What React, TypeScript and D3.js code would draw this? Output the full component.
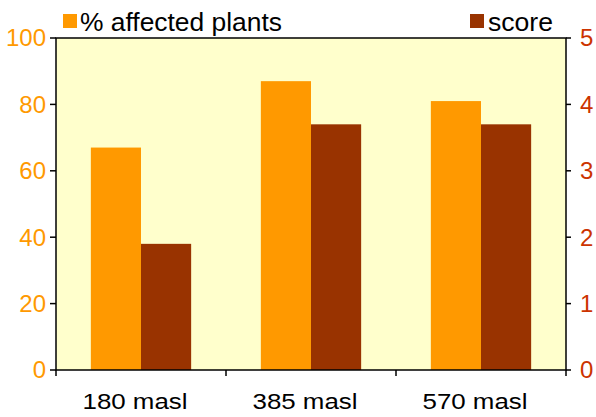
import React from "react";
import * as d3 from "d3";

const categories = ["180 masl", "385 masl", "570 masl"];
const affected = [67, 87, 81];
const score = [1.9, 3.7, 3.7];
const leftTicks = [0, 20, 40, 60, 80, 100];
const rightTicks = [0, 1, 2, 3, 4, 5];

export default function App() {
  const W = 596, H = 417;
  const L = 56, R = 566, T = 38, B = 370;
  const x = d3.scaleBand().domain(categories).range([L, R]).paddingInner(0.41).paddingOuter(0.205);
  const yL = d3.scaleLinear().domain([0, 100]).range([B, T]);
  const yR = d3.scaleLinear().domain([0, 5]).range([B, T]);
  const bw = x.bandwidth() / 2;
  const font = "Liberation Sans, Arial, sans-serif";
  const step = (R - L) / categories.length;
  return (
    <svg width={W} height={H} style={{ position: "absolute", left: 0, top: 0 }} fontFamily={font}>
      <rect x={L} y={T} width={R - L} height={B - T} fill="#FFFFCC" />
      {categories.map((c, i) => (
        <g key={c}>
          <rect x={x(c)!} y={yL(affected[i])} width={bw} height={B - yL(affected[i])} fill="#FF9900" />
          <rect x={x(c)! + bw} y={yR(score[i])} width={bw} height={B - yR(score[i])} fill="#993300" />
        </g>
      ))}
      <rect x={L} y={T} width={R - L} height={B - T} fill="none" stroke="#000" strokeWidth={1.5} />
      {leftTicks.map((t) => (
        <g key={"l" + t}>
          <line x1={L - 6} x2={L} y1={yL(t)} y2={yL(t)} stroke="#000" strokeWidth={1.5} />
          <text x={L - 10} y={yL(t)} dy="0.35em" textAnchor="end" fontSize={24} fill="#FF9900">{t}</text>
        </g>
      ))}
      {rightTicks.map((t) => (
        <g key={"r" + t}>
          <line x1={R} x2={R + 5} y1={yR(t)} y2={yR(t)} stroke="#000" strokeWidth={1.5} />
          <text x={R + 14} y={yR(t)} dy="0.35em" textAnchor="start" fontSize={24} fill="#CC3300">{t}</text>
        </g>
      ))}
      {d3.range(categories.length + 1).map((i) => (
        <line key={"b" + i} x1={L + i * step} x2={L + i * step} y1={B} y2={B + 6} stroke="#000" strokeWidth={1.5} />
      ))}
      {categories.map((c) => (
        <text key={"t" + c} x={x(c)! + x.bandwidth() / 2 - 6} y={409} textAnchor="middle" fontSize={22.5} fill="#000" textLength={105} lengthAdjust="spacingAndGlyphs">{c}</text>
      ))}
      <rect x={63} y={14} width={14} height={14} fill="#FF9900" />
      <text x={80} y={31} fontSize={25} fill="#000" textLength={202} lengthAdjust="spacingAndGlyphs">% affected plants</text>
      <rect x={470} y={14} width={14} height={14} fill="#993300" />
      <text x={488} y={31} fontSize={25} fill="#000" textLength={65} lengthAdjust="spacingAndGlyphs">score</text>
    </svg>
  );
}
